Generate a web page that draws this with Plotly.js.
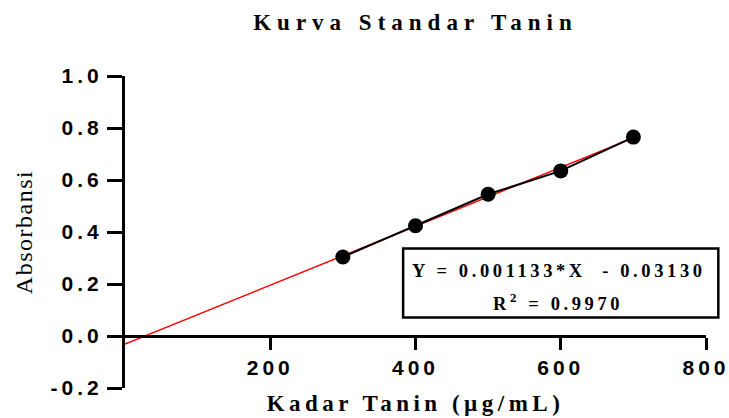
<!DOCTYPE html>
<html>
<head>
<meta charset="utf-8">
<script src="https://cdn.plot.ly/plotly-3.0.1.min.js"></script>
<style>
  html, body { margin: 0; padding: 0; background: #fff; }
  #chart { width: 729px; height: 418px; }
  .gtitle { letter-spacing: 6px; }
  .xtitle { letter-spacing: 4.5px; }
  .ytitle { letter-spacing: 1.5px; }
  .xtick text, .ytick text { letter-spacing: 4px; }
  .annotation-text { letter-spacing: 3.6px; }
</style>
</head>
<body>
<div id="chart"></div>
<script>
// Data
const concentrations = [300, 400, 500, 600, 700];      // Kadar Tanin (µg/mL)
const absorbances = [0.304, 0.424, 0.545, 0.635, 0.765]; // Absorbansi
// Linear fit line end points (Y = 0.001133*X - 0.03130)
const fitX = [0, 700];
const fitY = [-0.0313, 0.7618];
// Ticks
const xTickVals = [200, 400, 600, 800];
const xTickText = ['200', '400', '600', '800'];
const yTickVals = [-0.2, 0.0, 0.2, 0.4, 0.6, 0.8, 1.0];
const yTickText = ['-0.2', '0.0', '0.2', '0.4', '0.6', '0.8', '1.0'];
// Texts
const chartTitle = 'Kurva Standar Tanin';
const xTitle = 'Kadar Tanin (µg/mL)';
const yTitle = 'Absorbansi';
const eqLine1 = 'Y = 0.001133*X  - 0.03130';
const eqLine2 = 'R<sup>2</sup> = 0.9970';

const serif = 'Liberation Serif, Times New Roman, serif';
const sans = 'Liberation Sans, Arial, sans-serif';

const traces = [
  {
    x: fitX, y: fitY, type: 'scatter', mode: 'lines',
    line: { color: '#ff0000', width: 1.5 },
    hoverinfo: 'skip', showlegend: false
  },
  {
    x: concentrations, y: absorbances, type: 'scatter', mode: 'lines+markers',
    line: { color: '#000000', width: 2 },
    marker: { color: '#000000', size: 15, symbol: 'circle' },
    cliponaxis: false, showlegend: false
  }
];

const layout = {
  width: 729, height: 418,
  paper_bgcolor: '#ffffff', plot_bgcolor: '#ffffff',
  margin: { l: 125, r: 23, t: 76, b: 30, autoexpand: false },
  showlegend: false,
  title: {
    text: chartTitle,
    font: { family: serif, size: 23, color: '#000', weight: 'bold' },
    xref: 'paper', x: 0.5, xanchor: 'center',
    yref: 'container', y: 0.947, yanchor: 'middle'
  },
  xaxis: {
    range: [0, 800],
    anchor: 'free', position: 0.2 / 1.2,
    showgrid: false, zeroline: false,
    showline: true, linecolor: '#000', linewidth: 3,
    ticks: 'outside', ticklen: 12, tickwidth: 3, tickcolor: '#000',
    tickvals: xTickVals, ticktext: xTickText,
    ticklabeloverflow: 'allow',
    tickfont: { family: sans, size: 21, color: '#000', weight: 'bold' },
    title: {
      text: xTitle, standoff: 16,
      font: { family: serif, size: 23, color: '#000', weight: 'bold' }
    }
  },
  yaxis: {
    range: [-0.2, 1.0],
    showgrid: false, zeroline: false,
    showline: true, linecolor: '#000', linewidth: 3,
    ticks: 'outside', ticklen: 15, tickwidth: 3, tickcolor: '#000',
    tickvals: yTickVals, ticktext: yTickText,
    ticklabeloverflow: 'allow',
    tickfont: { family: sans, size: 21, color: '#000', weight: 'bold' },
    title: {
      text: yTitle, standoff: 12,
      font: { family: serif, size: 24, color: '#000' }
    }
  },
  shapes: [
    {
      type: 'rect', xref: 'paper', yref: 'paper',
      x0: 0.4787, x1: 1.0212, y0: 0.2256, y1: 0.4468,
      line: { color: '#000', width: 2.5 }, fillcolor: 'rgba(0,0,0,0)', layer: 'above'
    }
  ],
  annotations: [
    {
      text: eqLine1, xref: 'paper', yref: 'paper', x: 0.7474, y: 0.375,
      xanchor: 'center', yanchor: 'middle', showarrow: false,
      font: { family: serif, size: 18.5, color: '#000', weight: 'bold' }
    },
    {
      text: eqLine2, xref: 'paper', yref: 'paper', x: 0.7457, y: 0.2756,
      xanchor: 'center', yanchor: 'middle', showarrow: false,
      font: { family: serif, size: 18.5, color: '#000', weight: 'bold' }
    }
  ]
};

Plotly.newPlot('chart', traces, layout, { displayModeBar: false, staticPlot: true });
</script>
</body>
</html>
